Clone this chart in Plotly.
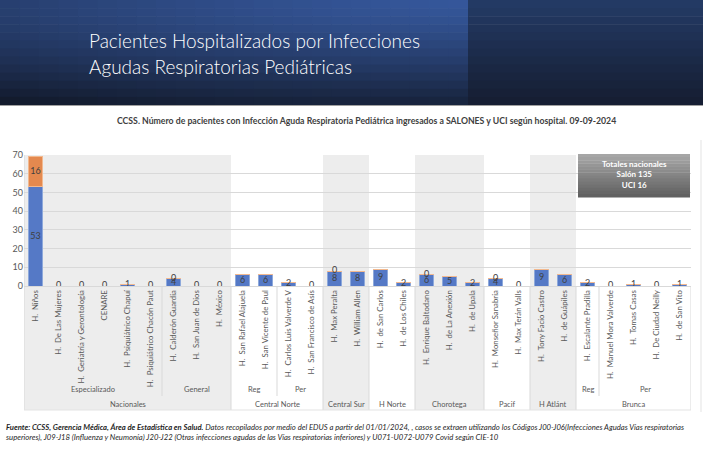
import plotly.graph_objects as go

hospitals = ["H.  Niños", "H.  De Las Mujeres", "H.  Geriatría y Gerontología", "CENARE",
             "H.  Psiquiátrico Chapuí", "H.  Psiquiátrico Chacón Paut",
             "H.  Calderón Guardia", "H.  San Juan de Dios", "H.  México",
             "H.  San Rafael Alajuela", "H.  San Vicente de Paul",
             "H.  Carlos Luis Valverde V", "H.  San Francisco de Asís",
             "H.  Max Peralta", "H.  William Allen",
             "H.  de San Carlos", "H.  de Los Chiles",
             "H.  Enrique Baltodano", "H.  de La Anexión", "H.  de Upala",
             "H.  Monseñor Sanabria", "H.  Max Terán Valls",
             "H.  Tony Facio Castro", "H.  de Guápiles",
             "H.  Escalante Pradilla", "H.  Manuel Mora Valverde", "H.  Tomas Casas",
             "H.  De Ciudad Neilly", "H.  de San Vito"]
salon = [53, 0, 0, 0, 1, 0, 4, 0, 0, 6, 6, 2, 0, 8, 8, 9, 2, 6, 5, 2, 4, 0, 9, 6, 2, 0, 1, 0, 1]
uci = [16, None, None, None, None, None, 0, None, None, None, None, None, None, 0, None,
       None, None, 0, None, None, 0, None, None, None, None, None, None, None, None]

# level-2 groups: (label, first index, last index)
level2 = [("Especializado", 0, 5), ("General", 6, 8), ("Reg", 9, 10), ("Per", 11, 12),
          ("Reg", 24, 24), ("Per", 25, 28)]
# level-3 groups: (label, first, last, shaded)
level3 = [("Nacionales", 0, 8, True), ("Central Norte", 9, 12, False), ("Central Sur", 13, 14, True),
          ("H Norte", 15, 16, False), ("Chorotega", 17, 19, True), ("Pacif", 20, 21, False),
          ("H Atlánt", 22, 23, True), ("Brunca", 24, 28, False)]

totals_text = "Totales nacionales<br>Salón 135<br>UCI 16"
title_lines = ["Pacientes Hospitalizados por Infecciones", "Agudas Respiratorias Pediátricas"]
subtitle = ("CCSS. Número de pacientes con Infección Aguda Respiratoria Pediátrica ingresados a "
            "SALONES y UCI según hospital. 09-09-2024")
footer = ("<b>Fuente: CCSS, Gerencia Médica, Área de Estadística en Salud.</b> Datos recopilados por medio "
          "del EDUS a partir del 01/01/2024, , casos se extraen utilizando los Códigos J00-J06(Infecciones "
          "Agudas Vías respiratorias<br>superiores), J09-J18 (Influenza y Neumonía) J20-J22 (Otras infecciones "
          "agudas de las Vías respiratorias inferiores) y U071-U072-U079 Covid según CIE-10")

W, H = 703, 455
L, R, T, B = 24, 691, 155, 286
FONT = "Lato"


def px(x):
    return (x - L) / (R - L)


def py(y):
    return (B - y) / (B - T)


def hexmix(c1, c2, t):
    a = [int(c1[i:i + 2], 16) for i in (1, 3, 5)]
    b = [int(c2[i:i + 2], 16) for i in (1, 3, 5)]
    return "#" + "".join(f"{round(a[k] + (b[k] - a[k]) * t):02x}" for k in range(3))


fig = go.Figure()
fig.add_trace(go.Bar(x=hospitals, y=salon, name="Salón", marker=dict(color="#5579C6", line=dict(color="#8EA9DB", width=1)),
                     hoverinfo="skip"))
fig.add_trace(go.Bar(x=hospitals, y=[u if u is not None else 0 for u in uci], name="UCI",
                     marker=dict(color="#E4894F", line=dict(color="#F2B98F", width=1)), hoverinfo="skip"))
# labels
fig.add_trace(go.Scatter(x=hospitals, y=[s / 2 for s in salon], mode="text", text=[str(s) for s in salon],
                         textfont=dict(family=FONT, size=9, color="#404040"), hoverinfo="skip", showlegend=False))
ux = [h for h, u in zip(hospitals, uci) if u is not None]
uy = [s + u / 2 for s, u in zip(salon, uci) if u is not None]
ut = [str(u) for u in uci if u is not None]
fig.add_trace(go.Scatter(x=ux, y=uy, mode="text", text=ut,
                         textfont=dict(family=FONT, size=9, color="#404040"), hoverinfo="skip", showlegend=False))

shapes = []
# banner gradient
cols, rows = 24, 13
for i in range(cols):
    for j in range(rows):
        x0 = 468 * i / cols
        x1 = 468 * (i + 1) / cols
        y0 = 105 * j / rows
        y1 = 105 * (j + 1) / rows
        cx = (x0 + x1) / 2
        cy = (y0 + y1) / 2
        d = (((468 - cx) / 468 * 0.55) ** 2 + (cy / 105) ** 2) ** 0.5 / (0.55 ** 2 + 1) ** 0.5
        col = hexmix("#35579B", "#111828", min(1, d ** 1.3))
        shapes.append(dict(type="rect", xref="paper", yref="paper", x0=px(x0), x1=px(x1 + 0.6),
                           y0=py(y0), y1=py(y1 + 0.6), fillcolor=col, line=dict(width=0), layer="below"))
for j in range(rows):
    y0 = 105 * j / rows
    y1 = 105 * (j + 1) / rows
    col = hexmix("#243B66", "#151D31", (j + 0.5) / rows)
    shapes.append(dict(type="rect", xref="paper", yref="paper", x0=px(468), x1=px(704),
                       y0=py(y0), y1=py(y1 + 0.6), fillcolor=col, line=dict(width=0), layer="below"))
shapes.append(dict(type="line", xref="paper", yref="paper", x0=px(0), x1=px(703), y0=py(105.5), y1=py(105.5),
                   line=dict(color="#A0A0A0", width=1)))

# shaded groups
bottom3 = py(410)
bottom2 = py(396)
for lab, a, b, sh in level3:
    if sh:
        shapes.append(dict(type="rect", xref="x", yref="paper", x0=a - 0.5, x1=b + 0.5, y0=bottom3, y1=1,
                           fillcolor="#EDEDED", line=dict(width=0), layer="below"))
for lab, a, b, sh in level3:
    shapes.append(dict(type="line", xref="x", yref="paper", x0=b + 0.5, x1=b + 0.5, y0=bottom3, y1=0,
                       line=dict(color="#D9D9D9", width=1), layer="below"))
shapes.append(dict(type="line", xref="x", yref="paper", x0=-0.5, x1=-0.5, y0=bottom3, y1=1,
                   line=dict(color="#D9D9D9", width=1), layer="below"))
for lab, a, b in level2:
    if b + 0.5 not in [g[2] + 0.5 for g in level3]:
        shapes.append(dict(type="line", xref="x", yref="paper", x0=b + 0.5, x1=b + 0.5, y0=bottom2, y1=0,
                           line=dict(color="#D9D9D9", width=1), layer="below"))
shapes.append(dict(type="line", xref="paper", yref="paper", x0=px(L), x1=px(R), y0=bottom3, y1=bottom3,
                   line=dict(color="#E3E3E3", width=1), layer="below"))
shapes.append(dict(type="line", xref="paper", yref="paper", x0=px(701), x1=px(701), y0=py(412), y1=py(140),
                   line=dict(color="#E3E3E3", width=1), layer="below"))

# totals box with gradient
bx0, bx1, by0, by1 = 578, 690, 154, 197
n = 14
for j in range(n):
    y0 = by0 + (by1 - by0) * j / n
    y1 = by0 + (by1 - by0) * (j + 1) / n
    col = hexmix("#A9A9A9", "#5E5E5E", (j + 0.5) / n)
    shapes.append(dict(type="rect", xref="paper", yref="paper", x0=px(bx0), x1=px(bx1), y0=py(y0),
                       y1=py(y1 + 0.4), fillcolor=col, line=dict(width=0)))

annotations = []
for k, line in enumerate(title_lines):
    annotations.append(dict(xref="paper", yref="paper", x=px(87), y=py(40 + 26 * k), text=line, showarrow=False,
                            xanchor="left", yanchor="middle",
                            font=dict(family=FONT, size=19, color="#FFFFFF", weight=300)))
annotations.append(dict(xref="paper", yref="paper", x=px(366), y=py(120), text="<b>" + subtitle + "</b>",
                        showarrow=False, xanchor="center", yanchor="middle",
                        font=dict(family=FONT, size=8.7, color="#404040")))
annotations.append(dict(xref="paper", yref="paper", x=px((bx0 + bx1) / 2), y=py((by0 + by1) / 2 - 1),
                        text="<b>" + totals_text + "</b>", showarrow=False, xanchor="center", yanchor="middle",
                        font=dict(family=FONT, size=8, color="#FFFFFF")))
for lab, a, b in level2:
    annotations.append(dict(xref="x", yref="paper", x=(a + b) / 2, y=py(389), text=lab, showarrow=False,
                            xanchor="center", yanchor="middle", font=dict(family=FONT, size=7.5, color="#595959")))
for lab, a, b, sh in level3:
    annotations.append(dict(xref="x", yref="paper", x=(a + b) / 2, y=py(404), text=lab, showarrow=False,
                            xanchor="center", yanchor="middle", font=dict(family=FONT, size=7.5, color="#595959")))
annotations.append(dict(xref="paper", yref="paper", x=px(4), y=py(432), text="<i>" + footer + "</i>",
                        showarrow=False, xanchor="left", yanchor="middle", align="left",
                        font=dict(family=FONT, size=7.7, color="#1F1F1F")))

fig.update_layout(
    width=W, height=H, barmode="stack", bargap=0.35, showlegend=False,
    paper_bgcolor="#FFFFFF", plot_bgcolor="rgba(0,0,0,0)",
    margin=dict(l=L, r=W - R, t=T, b=H - B, pad=0),
    shapes=shapes, annotations=annotations,
    xaxis=dict(type="category", tickangle=-90, tickfont=dict(family=FONT, size=7.8, color="#595959"),
               showgrid=False, showline=True, linecolor="#D9D9D9", ticks="", range=[-0.5, 28.5],
               fixedrange=True),
    yaxis=dict(range=[0, 70], dtick=10, showgrid=True, gridcolor="#D9D9D9", gridwidth=1,
               tickfont=dict(family=FONT, size=9, color="#595959"), zeroline=False, ticks="",
               showline=False, fixedrange=True),
)
fig.write_html("out.html", config={"displayModeBar": False},
               post_script="document.body.style.margin='0';document.body.style.padding='0';")
